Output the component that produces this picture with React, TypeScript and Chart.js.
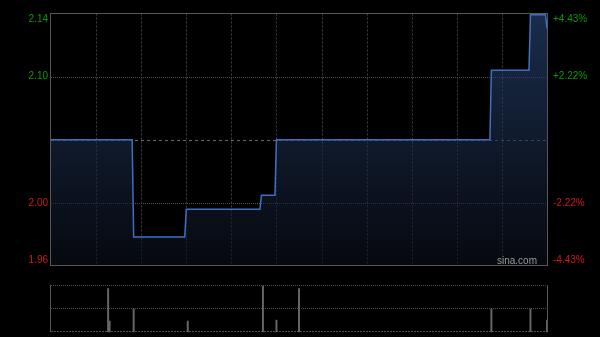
import React, { useEffect, useRef } from "react";
import { Chart, registerables } from "chart.js";

Chart.register(...registerables);

// ---- data ----
const prevClose = 2.05;
const rangePct = 4.43;
const totalMinutes = 330;
const gridMinutes = [30, 60, 90, 120, 150, 180, 210, 240, 270, 300];

const priceMinutes = [0, 54, 55, 89, 90, 139, 140, 149, 150, 292, 293, 318, 319, 329, 330];
const priceValues = [2.05, 2.05, 1.98, 1.98, 2.0, 2.0, 2.01, 2.01, 2.05, 2.05, 2.1, 2.1, 2.14, 2.14, 2.13];

const volumeMinutes = [38, 39, 55, 91, 141, 150, 165, 293, 319, 330];
const volumeValues = [94, 24, 50, 24, 100, 26, 94, 50, 50, 26];

const leftLabels = ["2.14", "2.10", "2.00", "1.96"];
const rightLabels = ["+4.43%", "+2.22%", "-2.22%", "-4.43%"];

const FONT = "10px 'Liberation Sans', Arial, sans-serif";
const GREEN = "#0a9a0a";
const RED = "#cc1a1a";

const yMax = prevClose * (1 + rangePct / 100);
const yMin = prevClose * (1 - rangePct / 100);
const yQ1 = prevClose * (1 + rangePct / 200);
const yQ3 = prevClose * (1 - rangePct / 200);

const mainGridPlugin = {
  id: "mainGrid",
  beforeDatasetsDraw(chart: any) {
    const { ctx, chartArea } = chart;
    const xs = chart.scales.x;
    const ys = chart.scales.y;
    ctx.save();
    ctx.lineWidth = 1;
    // vertical
    ctx.strokeStyle = "#404040";
    ctx.setLineDash([2, 2]);
    for (const m of gridMinutes) {
      const x = Math.round(xs.getPixelForValue(m)) + 0.5;
      ctx.beginPath();
      ctx.moveTo(x, chartArea.top);
      ctx.lineTo(x, chartArea.bottom);
      ctx.stroke();
    }
    // quarter lines
    ctx.strokeStyle = "#505050";
    ctx.setLineDash([1, 1]);
    for (const v of [yQ1, yQ3]) {
      const y = Math.round(ys.getPixelForValue(v)) + 0.5;
      ctx.beginPath();
      ctx.moveTo(chartArea.left, y);
      ctx.lineTo(chartArea.right, y);
      ctx.stroke();
    }
    // mid line
    ctx.strokeStyle = "#6a6a6a";
    ctx.setLineDash([3, 3]);
    const ym = Math.round(ys.getPixelForValue(prevClose)) + 0.5;
    ctx.beginPath();
    ctx.moveTo(chartArea.left, ym);
    ctx.lineTo(chartArea.right, ym);
    ctx.stroke();
    ctx.restore();
  },
  afterDraw(chart: any) {
    const { ctx, chartArea } = chart;
    const ys = chart.scales.y;
    ctx.save();
    ctx.setLineDash([]);
    ctx.strokeStyle = "#575757";
    ctx.lineWidth = 1;
    ctx.strokeRect(
      Math.floor(chartArea.left) - 0.5,
      Math.floor(chartArea.top) + 0.5,
      Math.round(chartArea.right - chartArea.left) + 1,
      Math.round(chartArea.bottom - chartArea.top) - 1
    );
    ctx.font = FONT;
    ctx.textBaseline = "middle";
    const ypos = [
      chartArea.top + 6,
      ys.getPixelForValue(yQ1),
      ys.getPixelForValue(yQ3),
      chartArea.bottom - 6,
    ];
    const colors = [GREEN, GREEN, RED, RED];
    for (let i = 0; i < 4; i++) {
      ctx.fillStyle = colors[i];
      ctx.textAlign = "right";
      ctx.fillText(leftLabels[i], chartArea.left - 3, ypos[i]);
      ctx.textAlign = "left";
      ctx.fillText(rightLabels[i], chartArea.right + 6, ypos[i]);
    }
    ctx.fillStyle = "#9a9a9a";
    ctx.textAlign = "right";
    ctx.textBaseline = "alphabetic";
    ctx.fillText("sina.com", chartArea.right - 10, chartArea.bottom - 2);
    ctx.restore();
  },
};

const volGridPlugin = {
  id: "volGrid",
  beforeDatasetsDraw(chart: any) {
    const { ctx, chartArea } = chart;
    ctx.save();
    ctx.lineWidth = 1;
    ctx.strokeStyle = "#505050";
    const rows = [chartArea.top, (chartArea.top + chartArea.bottom) / 2, chartArea.bottom];
    rows.forEach((r, i) => {
      ctx.setLineDash(i === 2 ? [2, 1] : [1, 1]);
      const y = Math.round(r) - 0.5;
      ctx.beginPath();
      ctx.moveTo(chartArea.left, y);
      ctx.lineTo(chartArea.right, y);
      ctx.stroke();
    });
    ctx.setLineDash([]);
    ctx.strokeStyle = "#575757";
    for (const x of [Math.floor(chartArea.left) - 0.5, Math.round(chartArea.right) + 0.5]) {
      ctx.beginPath();
      ctx.moveTo(x, chartArea.top - 0.5);
      ctx.lineTo(x, chartArea.bottom);
      ctx.stroke();
    }
    ctx.restore();
  },
};

export default function App() {
  const mainRef = useRef<HTMLCanvasElement>(null);
  const volRef = useRef<HTMLCanvasElement>(null);

  useEffect(() => {
    const main = new Chart(mainRef.current as HTMLCanvasElement, {
      type: "line",
      data: {
        datasets: [
          {
            data: priceMinutes.map((m, i) => ({ x: m, y: priceValues[i] })),
            borderColor: "#3e70c2",
            borderWidth: 1.5,
            pointRadius: 0,
            tension: 0,
            fill: "start",
            backgroundColor: (c: any) => {
              const area = c.chart.chartArea;
              if (!area) return "rgba(30,50,90,0.5)";
              const g = c.chart.ctx.createLinearGradient(0, area.top, 0, area.bottom);
              g.addColorStop(0, "rgba(42,72,122,0.62)");
              g.addColorStop(1, "rgba(10,14,24,0.6)");
              return g;
            },
          },
        ],
      },
      options: {
        animation: false,
        responsive: false,
        events: [],
        layout: { padding: { left: 51, right: 53, top: 13.5, bottom: 14 } },
        plugins: { legend: { display: false }, tooltip: { enabled: false } },
        scales: {
          x: { type: "linear", min: 0, max: totalMinutes, display: false },
          y: { type: "linear", min: yMin, max: yMax, display: false },
        },
      },
      plugins: [mainGridPlugin],
    });

    const vol = new Chart(volRef.current as HTMLCanvasElement, {
      type: "bar",
      data: {
        datasets: [
          {
            data: volumeMinutes.map((m, i) => ({ x: m, y: volumeValues[i] })),
            backgroundColor: "#666666",
            barThickness: 1.3,
          },
        ],
      },
      options: {
        animation: false,
        responsive: false,
        events: [],
        layout: { padding: { left: 51, right: 53, top: 5.7, bottom: 4.7 } },
        plugins: { legend: { display: false }, tooltip: { enabled: false } },
        scales: {
          x: { type: "linear", min: 0, max: totalMinutes, offset: false, display: false },
          y: { type: "linear", min: 0, max: 100, display: false },
        },
      },
      plugins: [volGridPlugin],
    });

    return () => {
      main.destroy();
      vol.destroy();
    };
  }, []);

  return (
    <div style={{ position: "fixed", left: 0, top: 0, width: 600, height: 337, background: "#000" }}>
      <canvas ref={mainRef} width={600} height={280} style={{ position: "absolute", left: 0, top: 0 }} />
      <canvas ref={volRef} width={600} height={57} style={{ position: "absolute", left: 0, top: 280 }} />
    </div>
  );
}
